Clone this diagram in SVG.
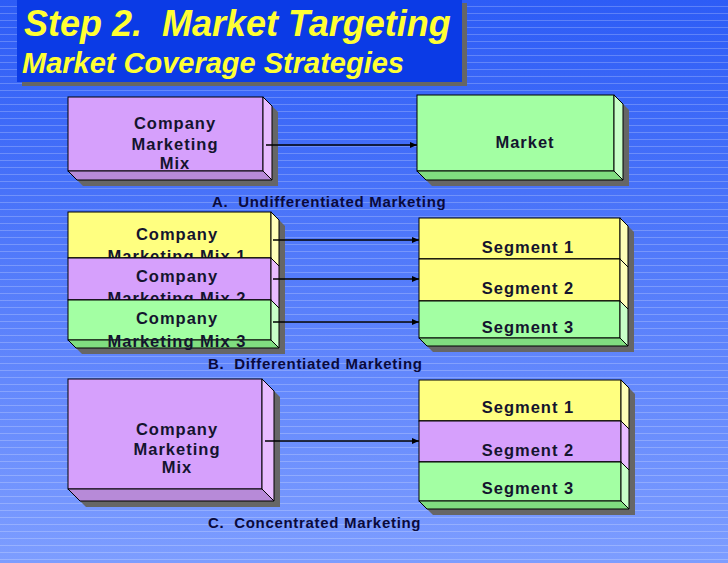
<svg xmlns="http://www.w3.org/2000/svg" width="728" height="563" viewBox="0 0 728 563">
<defs>
<linearGradient id="bg" x1="0" y1="0" x2="0" y2="1">
<stop offset="0" stop-color="#2d5cf6"/>
<stop offset="1" stop-color="#7d9dff"/>
</linearGradient>
<pattern id="stripes" x="0" y="0" width="728" height="7" patternUnits="userSpaceOnUse">
<rect x="0" y="6" width="728" height="1" fill="#ffffff" fill-opacity="0.22"/>
</pattern>
<marker id="arr" markerWidth="8" markerHeight="8" refX="7" refY="4" orient="auto" markerUnits="userSpaceOnUse">
<path d="M0,1 L7,4 L0,7 Z" fill="#000"/>
</marker>
</defs>
<style>
.sh{fill:#666666;stroke:none}
.f,.r,.b{stroke:#000;stroke-width:1}
.yf{fill:#ffff80}.yr{fill:#ffffb8}.yb{fill:#e6e660}
.pf{fill:#d6a0fc}.pr{fill:#e8bcff}.pb{fill:#b78ad8}
.gf{fill:#a3ffa3}.gr{fill:#c8ffc8}.gb{fill:#80dd80}
.t{font-family:"Liberation Sans",Arial,sans-serif;font-weight:bold;font-size:16.5px;fill:#14142e;letter-spacing:1px;text-anchor:middle}
.lbl{font-family:"Liberation Sans",Arial,sans-serif;font-weight:bold;font-size:15px;fill:#0a0a3c;letter-spacing:0.7px}
.ttl{font-family:"Liberation Sans",Arial,sans-serif;font-weight:bold;font-style:italic;fill:#ffff33}
.con line{stroke:#000;stroke-width:1.5;marker-end:url(#arr)}
</style>
<rect x="0" y="0" width="728" height="563" fill="url(#bg)"/>
<rect x="0" y="0" width="728" height="563" fill="url(#stripes)"/>

<g id="title">
<rect x="22" y="3" width="445" height="83" fill="#666666"/>
<rect x="17" y="-2" width="445" height="84" fill="#0b3be6"/>
<text class="ttl" x="24" y="36" font-size="36">Step 2.&#160; Market Targeting</text>
<text class="ttl" x="22" y="73" font-size="29">Market Coverage Strategies</text>
</g>

<g id="a-company">
<polygon class="sh" points="74,103 269,103 278,112 278,186 83,186 74,177"/>
<rect class="f pf" x="68" y="97" width="195" height="74"/>
<polygon class="r pr" points="263,97 272,106 272,180 263,171"/>
<polygon class="b pb" points="68,171 263,171 272,180 77,180"/>
<text class="t" x="175" y="129">Company</text>
<text class="t" x="175" y="150">Marketing</text>
<text class="t" x="175" y="169">Mix</text>
</g>

<g id="a-market">
<polygon class="sh" points="423,101 620,101 629,110 629,186 432,186 423,177"/>
<rect class="f gf" x="417" y="95" width="197" height="76"/>
<polygon class="r gr" points="614,95 623,104 623,180 614,171"/>
<polygon class="b gb" points="417,171 614,171 623,180 426,180"/>
<text class="t" x="525" y="148">Market</text>
</g>

<g id="label-a"><text class="lbl" x="212" y="207">A.&#160; Undifferentiated Marketing</text></g>

<g id="b-company">
<polygon class="sh" points="74,218 277,218 285,226 285,354 82,354 74,346"/>
<g id="b-mix1">
<rect class="f yf" x="68" y="212" width="203" height="46"/>
<polygon class="r yr" points="271,212 279,220 279,266 271,258"/>
<polygon class="b yb" points="68,258 271,258 279,266 76,266"/>
<text class="t" x="177" y="240">Company</text>
<text class="t" x="177" y="262">Marketing Mix 1</text>
</g>
<g id="b-mix2">
<rect class="f pf" x="68" y="258" width="203" height="42"/>
<polygon class="r pr" points="271,258 279,266 279,308 271,300"/>
<polygon class="b pb" points="68,300 271,300 279,308 76,308"/>
<text class="t" x="177" y="282">Company</text>
<text class="t" x="177" y="304">Marketing Mix 2</text>
</g>
<g id="b-mix3">
<rect class="f gf" x="68" y="300" width="203" height="40"/>
<polygon class="r gr" points="271,300 279,308 279,348 271,340"/>
<polygon class="b gb" points="68,340 271,340 279,348 76,348"/>
<text class="t" x="177" y="324">Company</text>
<text class="t" x="177" y="347">Marketing Mix 3</text>
</g>
</g>

<g id="b-segments">
<polygon class="sh" points="425,224 626,224 634,232 634,352 433,352 425,344"/>
<g id="b-seg1">
<rect class="f yf" x="419" y="218" width="201" height="41"/>
<polygon class="r yr" points="620,218 628,226 628,267 620,259"/>
<polygon class="b yb" points="419,259 620,259 628,267 427,267"/>
<text class="t" x="528" y="253">Segment 1</text>
</g>
<g id="b-seg2">
<rect class="f yf" x="419" y="259" width="201" height="42"/>
<polygon class="r yr" points="620,259 628,267 628,309 620,301"/>
<polygon class="b yb" points="419,301 620,301 628,309 427,309"/>
<text class="t" x="528" y="294">Segment 2</text>
</g>
<g id="b-seg3">
<rect class="f gf" x="419" y="301" width="201" height="37"/>
<polygon class="r gr" points="620,301 628,309 628,346 620,338"/>
<polygon class="b gb" points="419,338 620,338 628,346 427,346"/>
<text class="t" x="528" y="333">Segment 3</text>
</g>
</g>

<g id="label-b"><text class="lbl" x="208" y="369">B.&#160; Differentiated Marketing</text></g>

<g id="c-company">
<polygon class="sh" points="74,385 268,385 280,397 280,507 86,507 74,495"/>
<rect class="f pf" x="68" y="379" width="194" height="110"/>
<polygon class="r pr" points="262,379 274,391 274,501 262,489"/>
<polygon class="b pb" points="68,489 262,489 274,501 80,501"/>
<text class="t" x="177" y="435">Company</text>
<text class="t" x="177" y="455">Marketing</text>
<text class="t" x="177" y="473">Mix</text>
</g>

<g id="c-segments">
<polygon class="sh" points="425,386 627,386 635,394 635,515 433,515 425,507"/>
<g id="c-seg1">
<rect class="f yf" x="419" y="380" width="202" height="41"/>
<polygon class="r yr" points="621,380 629,388 629,429 621,421"/>
<polygon class="b yb" points="419,421 621,421 629,429 427,429"/>
<text class="t" x="528" y="413">Segment 1</text>
</g>
<g id="c-seg2">
<rect class="f pf" x="419" y="421" width="202" height="41"/>
<polygon class="r pr" points="621,421 629,429 629,470 621,462"/>
<polygon class="b pb" points="419,462 621,462 629,470 427,470"/>
<text class="t" x="528" y="456">Segment 2</text>
</g>
<g id="c-seg3">
<rect class="f gf" x="419" y="462" width="202" height="39"/>
<polygon class="r gr" points="621,462 629,470 629,509 621,501"/>
<polygon class="b gb" points="419,501 621,501 629,509 427,509"/>
<text class="t" x="528" y="494">Segment 3</text>
</g>
</g>

<g id="label-c"><text class="lbl" x="208" y="528">C.&#160; Concentrated Marketing</text></g>

<g id="connectors" class="con">
<line x1="266" y1="145" x2="417" y2="145"/>
<line x1="273" y1="240" x2="419" y2="240"/>
<line x1="273" y1="279" x2="419" y2="279"/>
<line x1="273" y1="322" x2="419" y2="322"/>
<line x1="265" y1="441" x2="419" y2="441"/>
</g>
</svg>
